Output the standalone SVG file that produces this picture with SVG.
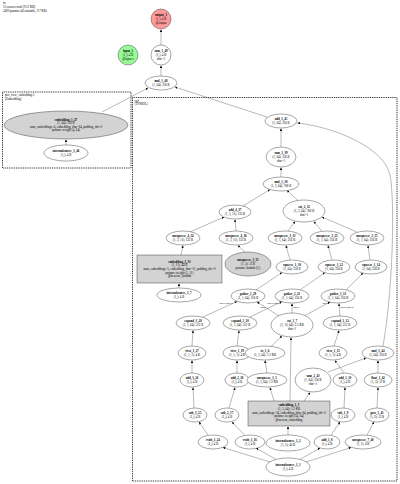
<svg xmlns="http://www.w3.org/2000/svg" width="400" height="484" viewBox="0 0 400 484">
<style>
text{font-family:"Liberation Serif",serif;font-size:3.1px;text-anchor:middle;fill:#000}
.b{font-weight:bold}
.l{text-anchor:start}
.el{font-size:2.6px}
ellipse,circle{stroke:#000;stroke-width:0.35;fill:#fff}
.g{fill:#d3d3d3}
rect.g{stroke:#000;stroke-width:0.35}
.frame{fill:none;stroke:#000;stroke-width:0.9;stroke-dasharray:0.9 0.9}
#edges line,#edges path{stroke:#333;stroke-width:0.35;fill:none;marker-end:url(#a)}
</style>
<defs>
<marker id="a" viewBox="0 0 10 10" refX="10" refY="5" markerWidth="2.4" markerHeight="2.4" markerUnits="userSpaceOnUse" orient="auto"><path d="M0,0L10,5L0,10z" fill="#000"/></marker>
</defs>
<rect width="400" height="484" fill="#fff"/>
<text class="l" x="3" y="4">fn</text>
<text class="l" x="3" y="7.8">51 tensors total (9.12 KB)</text>
<text class="l" x="3" y="11.6">2490 params (all trainable, 9.7 KB)</text>

<g id="frame_pos_view">
<rect class="frame" x="2.5" y="92" width="128.5" height="76"/>
<text class="l" x="5" y="96">pos_view_embedding:1</text>
<text class="l" x="5" y="99.5">(Embedding)</text>
</g>
<g id="frame_ssd">
<rect class="frame" x="132.5" y="97.5" width="264.5" height="383.5"/>
<text class="l" x="134.5" y="101.5">ssd</text>
<text class="l" x="134.5" y="105">(TFSSDL)</text>
</g>

<g id="edges">
<line x1="161" y1="45" x2="161" y2="29.5"/>
<line x1="161" y1="76" x2="161" y2="65.5"/>
<line x1="102" y1="112" x2="148" y2="88"/>
<line x1="267" y1="117" x2="175" y2="87"/>
<line x1="66" y1="145" x2="66" y2="139.5"/>
<line x1="281" y1="147" x2="281" y2="128.5"/>
<line x1="281" y1="177" x2="281" y2="167.5"/>
<line x1="243" y1="206" x2="270" y2="189.5"/>
<line x1="298" y1="200.5" x2="287" y2="190.5"/>
<line x1="190" y1="232" x2="224" y2="217"/>
<line x1="236" y1="231" x2="235" y2="219.5"/>
<line x1="288" y1="231" x2="295" y2="221.5"/>
<line x1="322" y1="231.5" x2="314" y2="221.5"/>
<line x1="357" y1="232" x2="322" y2="217"/>
<line x1="181" y1="255" x2="183" y2="245.5"/>
<line x1="245" y1="252" x2="238" y2="245.5"/>
<line x1="290" y1="260" x2="286" y2="245.5"/>
<line x1="332" y1="260" x2="328" y2="245.5"/>
<line x1="370" y1="260" x2="368" y2="245.5"/>
<line x1="179" y1="288" x2="179" y2="283.5"/>
<line x1="256" y1="290" x2="282" y2="272.5"/>
<line x1="300" y1="290" x2="325" y2="272.5"/>
<line x1="346" y1="290" x2="363" y2="273"/>
<line x1="203" y1="317" x2="237" y2="301.5"/>
<line x1="279" y1="316" x2="257" y2="302"/>
<line x1="250" y1="317" x2="282" y2="301.5"/>
<line x1="292" y1="313" x2="292" y2="303.5"/>
<line x1="305" y1="315.5" x2="330" y2="302"/>
<line x1="340" y1="316" x2="339" y2="303.5"/>
<line x1="192" y1="346" x2="193" y2="330.5"/>
<line x1="237" y1="346" x2="239" y2="330.5"/>
<line x1="271" y1="346.5" x2="282" y2="336"/>
<line x1="334" y1="346" x2="339" y2="330.5"/>
<line x1="290" y1="401" x2="291" y2="337.5"/>
<line x1="192" y1="373" x2="192" y2="360.5"/>
<line x1="237" y1="373" x2="237" y2="360.5"/>
<line x1="267" y1="373" x2="265" y2="360.5"/>
<line x1="344" y1="373" x2="335" y2="360.5"/>
<line x1="378" y1="373" x2="378" y2="360.5"/>
<line x1="328" y1="372" x2="366" y2="358"/>
<line x1="274" y1="401" x2="270" y2="387.5"/>
<line x1="304" y1="401" x2="310" y2="392.5"/>
<line x1="194" y1="408" x2="193" y2="387.5"/>
<line x1="229" y1="408" x2="235" y2="387.5"/>
<line x1="344" y1="408" x2="345" y2="387.5"/>
<line x1="377" y1="408" x2="378" y2="387.5"/>
<line x1="208" y1="435" x2="199" y2="422"/>
<line x1="245" y1="435.5" x2="232" y2="422"/>
<line x1="331" y1="435" x2="340" y2="422"/>
<line x1="367" y1="435" x2="374" y2="422"/>
<line x1="288" y1="435" x2="288" y2="426.5"/>
<line x1="270" y1="462" x2="223" y2="447.5"/>
<line x1="276" y1="459.5" x2="256" y2="448"/>
<line x1="300" y1="459.5" x2="320" y2="448"/>
<line x1="306" y1="462" x2="351" y2="447.5"/>
<path d="M383,346 C393,290 395,200 390,175 S340,128 297.5,123"/>
<text class="el" x="226" y="304">arg 2 (index)</text>
<text class="el" x="263" y="308">arg 0</text>
<text class="el" x="274" y="304">arg 2 (index)</text>
<text class="el" x="296" y="308">arg 0</text>
<text class="el" x="325" y="304">arg 0</text>
<text class="el" x="347" y="308">arg 2 (index)</text>
</g>

<g id="output_1"><circle cx="161" cy="19" r="10" style="fill:#ff9a9a"/><text class="b" x="161" y="16.4">output_1</text><text x="161" y="20">(1,); 4 B</text><text x="161" y="23.6">@output</text></g>
<g id="input_1"><circle cx="128" cy="55" r="10" style="fill:#98fb98"/><text class="b" x="128" y="52.4">input_1</text><text x="128" y="56">(1,); 4 B</text><text x="128" y="59.6">@input.x</text></g>
<g id="sum_1_49"><circle cx="161" cy="55" r="10"/><text class="b" x="161" y="52.4">sum_1_49</text><text x="161" y="56">(1,); 4 B</text><text x="161" y="59.6">dim=1</text></g>
<g id="mul_1_48"><ellipse cx="161" cy="83" rx="16" ry="7"/><text class="b" x="161" y="82.2">mul_1_48</text><text x="161" y="85.8">(1, 64); 256 B</text></g>
<g id="embedding_1_47"><ellipse class="g" cx="66" cy="125" rx="62" ry="14"/><text class="b" x="66" y="120.6">embedding_1_47</text><text x="66" y="124.2">(1, 64); 256 B</text><text x="66" y="127.8">num_embeddings=4, embedding_dim=64, padding_idx=0</text><text x="66" y="131.4">params: weight (4, 64)</text></g>
<g id="internalsource_1_46"><ellipse cx="66" cy="153" rx="22" ry="8"/><text class="b" x="66" y="152.2">internalsource_1_46</text><text x="66" y="155.8">(1,); 4 B</text></g>

<g id="add_1_45"><ellipse cx="281" cy="121" rx="16" ry="7"/><text class="b" x="281" y="120.2">add_1_45</text><text x="281" y="123.8">(1, 64); 256 B</text></g>
<g id="sum_1_39"><ellipse cx="281" cy="157" rx="15" ry="10"/><text class="b" x="281" y="154.4">sum_1_39</text><text x="281" y="158">(1, 64); 256 B</text><text x="281" y="161.6">dim=1</text></g>
<g id="mul_1_38"><ellipse cx="281" cy="184" rx="18" ry="7"/><text class="b" x="281" y="183.2">mul_1_38</text><text x="281" y="186.8">(1, 3, 64); 768 B</text></g>
<g id="add_4_37"><ellipse cx="235" cy="212" rx="16" ry="7"/><text class="b" x="235" y="211.2">add_4_37</text><text x="235" y="214.8">(1, 3, 11); 132 B</text></g>
<g id="cat_2_32"><ellipse cx="304" cy="211" rx="21" ry="11"/><text class="b" x="304" y="208.4">cat_2_32</text><text x="304" y="212">(1, 3, 64); 768 B</text><text x="304" y="215.6">dim=1</text></g>
<g id="unsqueeze_4_34"><ellipse cx="183" cy="238" rx="17" ry="7"/><text class="b" x="183" y="237.2">unsqueeze_4_34</text><text x="183" y="240.8">(1, 3, 11); 132 B</text></g>
<g id="unsqueeze_4_36"><ellipse cx="236" cy="238" rx="17" ry="7"/><text class="b" x="236" y="237.2">unsqueeze_4_36</text><text x="236" y="240.8">(1, 3, 11); 132 B</text></g>
<g id="unsqueeze_3_31"><ellipse cx="285" cy="238" rx="17" ry="7"/><text class="b" x="285" y="237.2">unsqueeze_3_31</text><text x="285" y="240.8">(1, 1, 64); 256 B</text></g>
<g id="unsqueeze_3_23"><ellipse cx="327" cy="238" rx="17" ry="7"/><text class="b" x="327" y="237.2">unsqueeze_3_23</text><text x="327" y="240.8">(1, 1, 64); 256 B</text></g>
<g id="unsqueeze_3_15"><ellipse cx="367" cy="238" rx="17" ry="7"/><text class="b" x="367" y="237.2">unsqueeze_3_15</text><text x="367" y="240.8">(1, 1, 64); 256 B</text></g>
<g id="embedding_3_33"><rect class="g" x="137" y="255" width="85" height="28"/><text class="b" x="179.5" y="262.8">embedding_3_33</text><text x="179.5" y="266.4">(1, 11); 44 B</text><text x="179.5" y="270">num_embeddings=5, embedding_dim=11, padding_idx=0</text><text x="179.5" y="273.6">params: weight (5, 11)</text><text x="179.5" y="277.2">@m.score_lambda</text></g>
<g id="unsqueeze_3_35"><ellipse class="g" cx="248" cy="264" rx="23" ry="12"/><text class="b" x="248" y="261.4">unsqueeze_3_35</text><text x="248" y="265">(1, 3); 12 B</text><text x="248" y="268.6">params: lambda (3,)</text></g>
<g id="squeeze_1_30"><ellipse cx="292" cy="267" rx="16" ry="7"/><text class="b" x="292" y="266.2">squeeze_1_30</text><text x="292" y="269.8">(1, 64); 256 B</text></g>
<g id="squeeze_1_22"><ellipse cx="334" cy="267" rx="16" ry="7"/><text class="b" x="334" y="266.2">squeeze_1_22</text><text x="334" y="269.8">(1, 64); 256 B</text></g>
<g id="squeeze_1_14"><ellipse cx="371" cy="267" rx="16" ry="7"/><text class="b" x="371" y="266.2">squeeze_1_14</text><text x="371" y="269.8">(1, 64); 256 B</text></g>
<g id="internalsource_1_7"><ellipse cx="179" cy="295" rx="22" ry="7"/><text class="b" x="179" y="294.2">internalsource_1_7</text><text x="179" y="297.8">(1,); 4 B</text></g>
<g id="gather_1_29"><ellipse cx="248" cy="296" rx="17" ry="7"/><text class="b" x="248" y="295.2">gather_1_29</text><text x="248" y="298.8">(1, 1, 64); 256 B</text></g>
<g id="gather_2_21"><ellipse cx="292" cy="296" rx="17" ry="7"/><text class="b" x="292" y="295.2">gather_2_21</text><text x="292" y="298.8">(1, 1, 64); 256 B</text></g>
<g id="gather_1_13"><ellipse cx="338" cy="296" rx="17" ry="7"/><text class="b" x="338" y="295.2">gather_1_13</text><text x="338" y="298.8">(1, 1, 64); 256 B</text></g>
<g id="expand_3_28"><ellipse cx="193" cy="323" rx="17" ry="7"/><text class="b" x="193" y="322.2">expand_3_28</text><text x="193" y="325.8">(1, 1, 64); 512 B</text></g>
<g id="expand_1_20"><ellipse cx="240" cy="323" rx="17" ry="7"/><text class="b" x="240" y="322.2">expand_1_20</text><text x="240" y="325.8">(1, 1, 64); 512 B</text></g>
<g id="cat_1_7"><ellipse cx="292" cy="325" rx="21" ry="12"/><text class="b" x="292" y="322.4">cat_1_7</text><text x="292" y="326">(1, 10, 64); 2.5 KB</text><text x="292" y="329.6">dim=1</text></g>
<g id="expand_1_12"><ellipse cx="340" cy="323" rx="17" ry="7"/><text class="b" x="340" y="322.2">expand_1_12</text><text x="340" y="325.8">(1, 1, 64); 512 B</text></g>
<g id="view_1_27"><ellipse cx="192" cy="353" rx="14" ry="7"/><text class="b" x="192" y="352.2">view_1_27</text><text x="192" y="355.8">(1, 1, 1); 4 B</text></g>
<g id="view_1_19"><ellipse cx="237" cy="353" rx="14" ry="7"/><text class="b" x="237" y="352.2">view_1_19</text><text x="237" y="355.8">(1, 1, 1); 4 B</text></g>
<g id="to_1_6"><ellipse cx="265" cy="353" rx="20" ry="7"/><text class="b" x="265" y="352.2">to_1_6</text><text x="265" y="355.8">(1, 5, 64); 1.2 KB</text></g>
<g id="view_1_11"><ellipse cx="333" cy="353" rx="14" ry="7"/><text class="b" x="333" y="352.2">view_1_11</text><text x="333" y="355.8">(1, 1, 1); 4 B</text></g>
<g id="mul_1_44"><ellipse cx="378" cy="353" rx="16" ry="7"/><text class="b" x="378" y="352.2">mul_1_44</text><text x="378" y="355.8">(1, 64); 256 B</text></g>
<g id="add_3_26"><ellipse cx="192" cy="380" rx="12" ry="7"/><text class="b" x="192" y="379.2">add_3_26</text><text x="192" y="382.8">(1,); 4 B</text></g>
<g id="add_2_18"><ellipse cx="237" cy="380" rx="12" ry="7"/><text class="b" x="237" y="379.2">add_2_18</text><text x="237" y="382.8">(1,); 4 B</text></g>
<g id="unsqueeze_1_5"><ellipse cx="267" cy="380" rx="20" ry="7"/><text class="b" x="267" y="379.2">unsqueeze_1_5</text><text x="267" y="382.8">(1, 5, 64); 1.2 KB</text></g>
<g id="sum_2_43"><ellipse cx="313" cy="380" rx="18" ry="12"/><text class="b" x="313" y="377.4">sum_2_43</text><text x="313" y="381">(1, 64); 256 B</text><text x="313" y="384.6">dim=1</text></g>
<g id="add_1_10"><ellipse cx="345" cy="380" rx="12" ry="7"/><text class="b" x="345" y="379.2">add_1_10</text><text x="345" y="382.8">(1,); 4 B</text></g>
<g id="float_1_42"><ellipse cx="378" cy="380" rx="14" ry="7"/><text class="b" x="378" y="379.2">float_1_42</text><text x="378" y="382.8">(1, 3); 12 B</text></g>
<g id="embedding_1_3"><rect class="g" x="248" y="401" width="82" height="25"/><text class="b" x="289" y="406.3">embedding_1_3</text><text x="289" y="409.9">(1, 5, 64); 1.2 KB</text><text x="289" y="413.5">num_embeddings=34, embedding_dim=64, padding_idx=0</text><text x="289" y="417.1">params: weight (34, 64)</text><text x="289" y="420.7">@m.item_embedding</text></g>
<g id="sub_3_25"><ellipse cx="195" cy="415" rx="12" ry="7"/><text class="b" x="195" y="414.2">sub_3_25</text><text x="195" y="417.8">(1,); 4 B</text></g>
<g id="sub_2_17"><ellipse cx="227" cy="415" rx="12" ry="7"/><text class="b" x="227" y="414.2">sub_2_17</text><text x="227" y="417.8">(1,); 4 B</text></g>
<g id="sub_1_9"><ellipse cx="343" cy="415" rx="12" ry="7"/><text class="b" x="343" y="414.2">sub_1_9</text><text x="343" y="417.8">(1,); 4 B</text></g>
<g id="pow_1_41"><ellipse cx="377" cy="415" rx="12" ry="7"/><text class="b" x="377" y="414.2">pow_1_41</text><text x="377" y="417.8">(1, 3); 12 B</text></g>
<g id="rsub_1_24"><ellipse cx="213" cy="442" rx="15" ry="7"/><text class="b" x="213" y="441.2">rsub_1_24</text><text x="213" y="444.8">(1,); 4 B</text></g>
<g id="rsub_1_16"><ellipse cx="250" cy="442" rx="15" ry="7"/><text class="b" x="250" y="441.2">rsub_1_16</text><text x="250" y="444.8">(1,); 4 B</text></g>
<g id="internalsource_1_2"><ellipse cx="288" cy="443" rx="22" ry="8"/><text class="b" x="288" y="442.2">internalsource_1_2</text><text x="288" y="445.8">(1, 5); 40 B</text></g>
<g id="add_1_8"><ellipse cx="327" cy="442" rx="13" ry="7"/><text class="b" x="327" y="441.2">add_1_8</text><text x="327" y="444.8">(1,); 4 B</text></g>
<g id="unsqueeze_7_40"><ellipse cx="363" cy="442" rx="18" ry="7"/><text class="b" x="363" y="441.2">unsqueeze_7_40</text><text x="363" y="444.8">(1, 1); 4 B</text></g>
<g id="internalsource_1_1"><ellipse cx="288" cy="467" rx="22" ry="9"/><text class="b" x="288" y="466.2">internalsource_1_1</text><text x="288" y="469.8">(1,); 4 B</text></g>
</svg>
